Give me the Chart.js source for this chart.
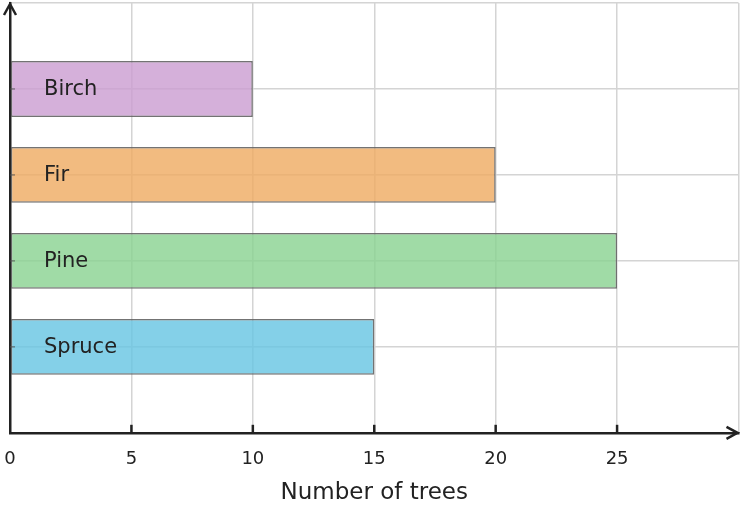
<!DOCTYPE html>
<html>
<head>
<meta charset="utf-8">
<script src="https://cdn.jsdelivr.net/npm/chart.js@4/dist/chart.umd.min.js"></script>
<style>
  html, body { margin: 0; padding: 0; background: #fff; }
  #wrap { width: 742px; height: 508px; position: relative; }
</style>
</head>
<body>
<div id="wrap"><canvas id="chart"></canvas></div>
<script>
// Data, listed top to bottom as in the picture
const categories = ['Birch', 'Fir', 'Pine', 'Spruce'];
const treeCounts = [10, 20, 25, 15];
const xTicks = [0, 5, 10, 15, 20, 25];

const barColors = [
    'rgba(203,156,209,0.8)',
    'rgba(239,170,96,0.8)',
    'rgba(136,210,144,0.8)',
    'rgba(101,196,226,0.8)'
];
const axisColor = '#222222';
const fontFamily = '"DejaVu Sans", sans-serif';

// bars sit on a linear y scale: first category at the top
const points = categories.map((c, i) => ({ x: treeCounts[i], y: categories.length - i }));

// labels inside the bars, arrows and little tick marks on the axes
const decorations = {
    id: 'decorations',
    afterDatasetsDraw(chart) {
        const ctx = chart.ctx;
        const area = chart.chartArea;
        const meta = chart.getDatasetMeta(0);
        ctx.save();
        ctx.font = '21px ' + fontFamily;
        ctx.fillStyle = axisColor;
        ctx.textBaseline = 'middle';
        ctx.textAlign = 'left';
        meta.data.forEach((bar, i) => {
            ctx.fillText(categories[i], area.left + 34, bar.y + 1);
        });
        ctx.restore();
    },
    afterDraw(chart) {
        const ctx = chart.ctx;
        const area = chart.chartArea;
        const xs = chart.scales.x;
        const meta = chart.getDatasetMeta(0);
        ctx.save();
        ctx.strokeStyle = axisColor;
        ctx.lineWidth = 2.5;
        ctx.lineCap = 'butt';
        // x axis ticks pointing into the plot
        xTicks.forEach(v => {
            if (v === 0) return;
            const px = xs.getPixelForValue(v);
            ctx.beginPath();
            ctx.moveTo(px, area.bottom);
            ctx.lineTo(px, area.bottom - 8);
            ctx.stroke();
        });
        // arrow heads
        ctx.lineJoin = 'miter';
        ctx.beginPath();
        ctx.moveTo(area.right - 12, area.bottom - 6);
        ctx.lineTo(area.right - 1, area.bottom);
        ctx.lineTo(area.right - 12, area.bottom + 6);
        ctx.stroke();
        ctx.beginPath();
        ctx.moveTo(area.left - 6, area.top + 12);
        ctx.lineTo(area.left, area.top + 1);
        ctx.lineTo(area.left + 6, area.top + 12);
        ctx.stroke();
        // small marks at the bar centres on the y axis
        ctx.lineWidth = 1.5;
        ctx.strokeStyle = 'rgba(80,80,80,0.6)';
        meta.data.forEach(bar => {
            ctx.beginPath();
            ctx.moveTo(area.left, bar.y);
            ctx.lineTo(area.left + 5, bar.y);
            ctx.stroke();
        });
        ctx.restore();
    }
};

new Chart(document.getElementById('chart'), {
    type: 'bar',
    data: {
        datasets: [{
            data: points,
            backgroundColor: barColors,
            borderColor: 'rgba(100,100,100,0.9)',
            borderWidth: 1.5,
            borderSkipped: false,
            barPercentage: 0.65,
            categoryPercentage: 1
        }]
    },
    options: {
        indexAxis: 'y',
        responsive: true,
        maintainAspectRatio: false,
        animation: false,
        layout: { padding: { left: 10, right: 3.5, top: 3, bottom: 1 } },
        plugins: {
            legend: { display: false },
            tooltip: { enabled: false }
        },
        scales: {
            x: {
                type: 'linear',
                min: 0,
                max: 30,
                afterBuildTicks(scale) {
                    scale.ticks = xTicks.concat([30]).map(v => ({ value: v }));
                },
                grid: {
                    color: '#d4d4d4',
                    lineWidth: 1.5,
                    drawTicks: true,
                    tickLength: 16,
                    tickColor: 'rgba(0,0,0,0)'
                },
                border: { display: true, color: axisColor, width: 2.5 },
                ticks: {
                    padding: 0,
                    color: axisColor,
                    font: { family: fontFamily, size: 18 },
                    callback: v => (xTicks.includes(v) ? String(v) : '')
                },
                title: {
                    display: true,
                    text: 'Number of trees',
                    color: axisColor,
                    font: { family: fontFamily, size: 23 },
                    padding: { top: 9, bottom: 0 }
                }
            },
            y: {
                type: 'linear',
                offset: false,
                min: 0,
                max: categories.length + 1,
                ticks: { display: false, stepSize: 1 },
                grid: { offset: false, color: '#d4d4d4', lineWidth: 1.5, drawTicks: false },
                border: { display: true, color: axisColor, width: 2.5 }
            }
        }
    },
    plugins: [decorations]
});
</script>
</body>
</html>
